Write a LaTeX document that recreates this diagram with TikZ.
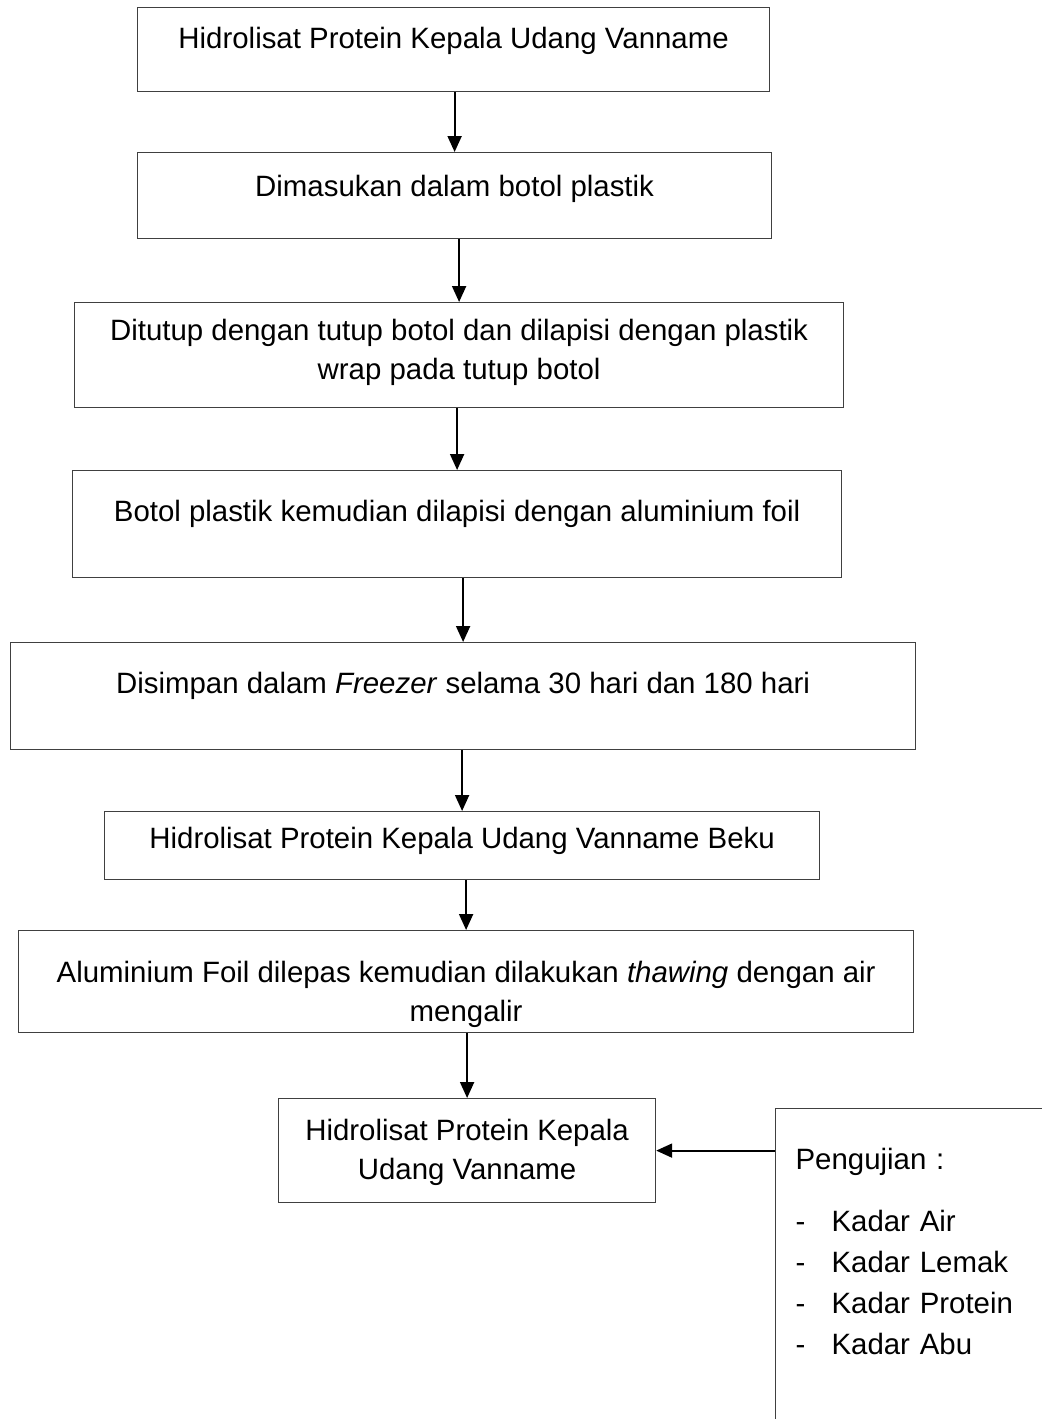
\documentclass[tikz,border=0pt]{standalone}
\usepackage{fontspec}
\setmainfont{Liberation Sans}
\usetikzlibrary
  {
    arrows.meta,              % arrow heads with a given size
    positioning,              % place nodes relative to other nodes
  }

\begin{document}
\begin{tikzpicture}
    [
      x=0.5pt,
      y=-0.5pt,
      langkah/.style=
        {
          rectangle,
          anchor=north west,
          inner sep=0pt,
          draw=black!75,
          line width=0.6pt,
          align=center,
          font=\fontsize{14.7}{19.5}\selectfont,
        },
      panah/.style=
        {
          line width=1pt,
          -{Triangle[length=8pt,width=7pt]},
        }
    ]
    \clip (0,0) rectangle (1042,1419);

    \node (hidrolisat) [langkah, minimum width=316pt, text height=20.5pt, text depth=21.5pt]
      at (137,7) {Hidrolisat Protein Kepala Udang Vanname};
    \node (botol) [langkah, minimum width=317pt, text height=22pt, text depth=21pt]
      at (137,152) {Dimasukan dalam botol plastik};
    \node (tutup) [langkah, minimum width=384.5pt, text height=38.5pt, text depth=14pt]
      at (74,302) {Ditutup dengan tutup botol dan dilapisi dengan plastik\\wrap pada tutup botol};
    \node (foil) [langkah, minimum width=384.5pt, text height=25.5pt, text depth=28pt]
      at (72,470) {Botol plastik kemudian dilapisi dengan aluminium foil};
    \node (simpan) [langkah, minimum width=452.5pt, text height=25.5pt, text depth=28pt]
      at (10,642) {Disimpan dalam \textit{Freezer} selama 30 hari dan 180 hari};
    \node (beku) [langkah, minimum width=357.5pt, text height=18.5pt, text depth=15.5pt]
      at (104,811) {Hidrolisat Protein Kepala Udang Vanname Beku};
    \node (thawing) [langkah, minimum width=447.5pt, text height=45.5pt, text depth=5.5pt]
      at (18,930) {Aluminium Foil dilepas kemudian dilakukan \textit{thawing} dengan air\\mengalir};
    \node (hasil) [langkah, minimum width=188.5pt, text height=40.5pt, text depth=11.5pt]
      at (278,1098) {Hidrolisat Protein Kepala\\Udang Vanname};
    \node (uji) [langkah, align=left, inner xsep=10pt, text width=120pt,
                 text height=30.5pt, text depth=134.5pt]
      at (775,1108)
      {Pengujian :\\[11.5pt]
       \makebox[18pt][l]{-}Kadar Air\\[1pt]
       \makebox[18pt][l]{-}Kadar Lemak\\[1pt]
       \makebox[18pt][l]{-}Kadar Protein\\[1pt]
       \makebox[18pt][l]{-}Kadar Abu};

    \draw [panah] (hidrolisat.south -| botol) -- (botol.north);
    \draw [panah] (botol.south -| tutup) -- (tutup.north);
    \draw [panah] (tutup.south -| foil) -- (foil.north);
    \draw [panah] (foil.south -| simpan) -- (simpan.north);
    \draw [panah] (simpan.south -| beku) -- (beku.north);
    \draw [panah] (beku.south -| thawing) -- (thawing.north);
    \draw [panah] (thawing.south -| hasil) -- (hasil.north);
    \draw [panah] (uji.west |- hasil) -- (hasil.east);
  \end{tikzpicture}
\end{document}
